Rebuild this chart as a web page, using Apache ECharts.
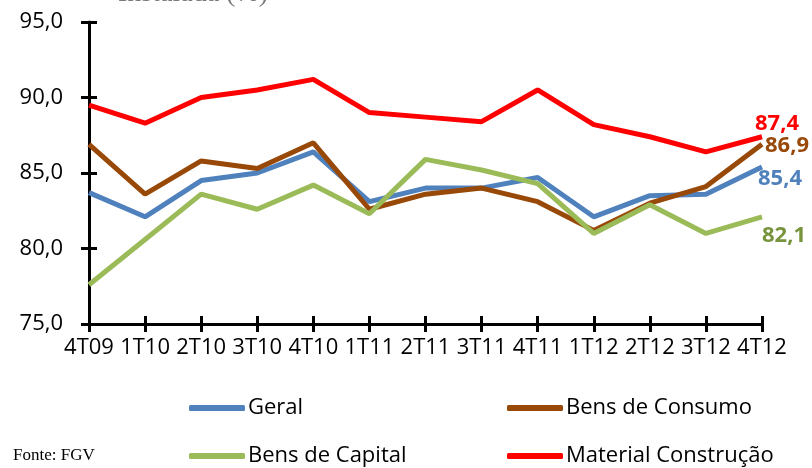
<!DOCTYPE html>
<html>
<head>
<meta charset="utf-8">
<script src="https://cdn.jsdelivr.net/npm/echarts@6/dist/echarts.min.js"></script>
<style>
  html, body { margin: 0; padding: 0; background: #fff; }
  #chart { width: 812px; height: 468px; }
</style>
</head>
<body>
<div id="chart"></div>
<script>
// Quarters on the horizontal axis
const quarters = ['4T09', '1T10', '2T10', '3T10', '4T10', '1T11', '2T11', '3T11', '4T11', '1T12', '2T12', '3T12', '4T12'];

// Capacity use by segment (%)
const geral = [83.7, 82.1, 84.5, 85.0, 86.4, 83.1, 84.0, 84.0, 84.7, 82.1, 83.5, 83.6, 85.4];
const bensConsumo = [86.9, 83.6, 85.8, 85.3, 87.0, 82.6, 83.6, 84.0, 83.1, 81.2, 83.0, 84.1, 86.9];
const bensCapital = [77.6, 80.6, 83.6, 82.6, 84.2, 82.3, 85.9, 85.2, 84.3, 81.0, 82.9, 81.0, 82.1];
const materialConstrucao = [89.5, 88.3, 90.0, 90.5, 91.2, 89.0, 88.7, 88.4, 90.5, 88.2, 87.4, 86.4, 87.4];

// Value axis ticks
const yMin = 75, yMax = 95, yStep = 5;

const FONT = 'Open Sans';
const fmt = v => v.toFixed(1).replace('.', ',');

function lineSeries(name, data, color, labelColor, offset) {
  return {
    name, type: 'line', data,
    showSymbol: false, symbol: 'none',
    lineStyle: { color, width: 5 },
    itemStyle: { color },
    endLabel: {
      show: true, distance: 5, offset,
      color: labelColor, fontFamily: FONT, fontWeight: 'bold', fontSize: 22,
      formatter: p => fmt(p.value)
    },
    z: 3
  };
}

function legendAt(name, left, top) {
  return {
    data: [name], left, top, orient: 'horizontal',
    icon: 'roundRect', itemWidth: 56, itemHeight: 6, itemGap: 0,
    textStyle: { fontFamily: FONT, fontSize: 22, color: '#000', padding: [0, 0, 0, -2] }
  };
}

const axisLine = { lineStyle: { color: '#000', width: 3 } };

const chart = echarts.init(document.getElementById('chart'), null, { renderer: 'canvas' });
chart.setOption({
  animation: false,
  backgroundColor: '#fff',
  grid: { left: 89, right: 50, top: 22, bottom: 144, containLabel: false },
  xAxis: [
    {
      type: 'category', data: quarters, boundaryGap: false,
      axisLine, axisTick: { show: true, length: 8, inside: false, lineStyle: { color: '#000', width: 3 } },
      axisLabel: { interval: 0, margin: 13, fontFamily: FONT, fontSize: 22, color: '#000' },
      splitLine: { show: false }
    },
    {
      type: 'category', data: quarters, boundaryGap: false, position: 'bottom',
      axisLine: { show: false }, axisLabel: { show: false },
      axisTick: { show: true, length: 8, inside: true, lineStyle: { color: '#000', width: 3 } },
      splitLine: { show: false }
    }
  ],
  yAxis: [
    {
      type: 'value', min: yMin, max: yMax, interval: yStep,
      axisLine: { show: true, lineStyle: { color: '#000', width: 3 } },
      axisTick: { show: true, length: 8, inside: false, lineStyle: { color: '#000', width: 3 } },
      axisLabel: { margin: 26, fontFamily: FONT, fontSize: 22, color: '#000', formatter: v => fmt(v) },
      splitLine: { show: false }
    },
    {
      type: 'value', min: yMin, max: yMax, interval: yStep, position: 'left',
      axisLine: { show: false }, axisLabel: { show: false },
      axisTick: { show: true, length: 8, inside: true, lineStyle: { color: '#000', width: 3 } },
      splitLine: { show: false }
    }
  ],
  legend: [
    legendAt('Geral', 184, 392),
    legendAt('Bens de Consumo', 502, 392),
    legendAt('Bens de Capital', 184, 440),
    legendAt('Material Construção', 502, 440)
  ],
  series: [
    lineSeries('Geral', geral, '#4F81BD', '#4F81BD', [-9, 12]),
    lineSeries('Bens de Consumo', bensConsumo, '#984807', '#984807', [-2, 1]),
    lineSeries('Bens de Capital', bensCapital, '#9BBB59', '#77933C', [-5, 19]),
    lineSeries('Material Construção', materialConstrucao, '#FF0000', '#FF0000', [-12, -13])
  ],
  graphic: [
    {
      type: 'text', left: 13, top: 447,
      style: { text: 'Fonte: FGV', fontFamily: 'Liberation Serif', fontSize: 17, fill: '#000' }
    },
    {
      type: 'text', left: 118, top: -20,
      style: { text: 'Instalada (%)', fontFamily: 'Liberation Serif', fontSize: 28, fill: '#777' }
    }
  ]
});
</script>
</body>
</html>
